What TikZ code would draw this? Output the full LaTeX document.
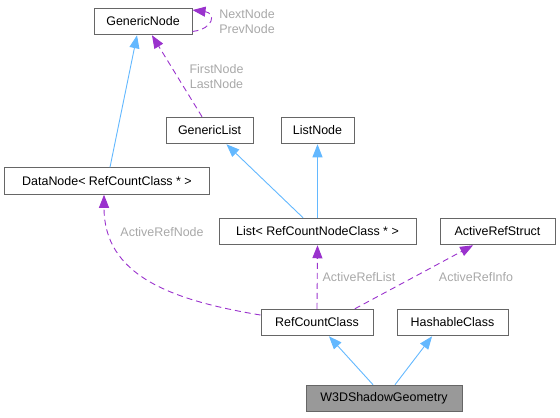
\documentclass[tikz,border=0pt]{standalone}
\usepackage{fontspec}
\setmainfont{Liberation Sans}
\usetikzlibrary{arrows.meta}
\definecolor{inhblue}{HTML}{63B8FF}
\definecolor{refpurple}{HTML}{9A32CD}
\definecolor{boxgray}{HTML}{666666}
\definecolor{lblgray}{HTML}{A8A8A8}
\definecolor{curfill}{HTML}{999999}
\tikzset{
  cls/.style={draw=boxgray, line width=1bp, fill=white, rectangle, inner sep=0pt,
    minimum height=26.5bp, font=\fontsize{12.5}{15}\selectfont, text=black},
  cur/.style={cls, fill=curfill},
  inh/.style={draw=inhblue, line width=0.9bp, -{Triangle[length=13bp,width=10bp]}},
  refl/.style={draw=refpurple, line width=0.9bp, dash pattern=on 6bp off 4bp,
    -{Triangle[length=13bp,width=10bp]}},
  lbl/.style={text=lblgray, font=\fontsize{12.5}{15}\selectfont, inner sep=0pt, align=center}
}
\begin{document}
\begin{tikzpicture}[x=1bp,y=-1bp]
\useasboundingbox (0,0) rectangle (560,417);
\node[cls, minimum width=98bp] (gn) at (143,21.5) {GenericNode};
\node[cls, minimum width=87bp] (gl) at (209.5,130.5) {GenericList};
\node[cls, minimum width=73bp] (ln) at (317.5,130.5) {ListNode};
\node[cls, minimum width=204bp] (dn) at (107,181) {DataNode< RefCountClass * >};
\node[cls, minimum width=197bp] (li) at (317.5,231.5) {List< RefCountNodeClass * >};
\node[cls, minimum width=115bp] (ars) at (497.5,231.5) {ActiveRefStruct};
\node[cls, minimum width=112bp] (rc) at (317,322.5) {RefCountClass};
\node[cls, minimum width=111bp] (hc) at (452.5,322.5) {HashableClass};
\node[cur, minimum width=156bp] (w3d) at (384,398.5) {W3DShadowGeometry};

% inheritance
\draw[inh] ([xshift=3]dn.north) -- ([xshift=-6]gn.south);
\draw[inh] ([xshift=-14.5]li.north) -- ([xshift=17]gl.south);
\draw[inh] (li.north) -- (ln.south);
\draw[inh] ([xshift=-11]w3d.north) -- ([xshift=12]rc.south);
\draw[inh] ([xshift=11]w3d.north) -- ([xshift=-20.5]hc.south);

% references
\draw[refl] ([xshift=-7.5]gl.north) -- ([xshift=9]gn.south);
\node[lbl] (lfl) at (216.5,77) {FirstNode\\LastNode};
\draw[refl] ([yshift=-10]gn.east) .. controls (214,29) and (216,13) .. ([yshift=11.5]gn.east);
\node[lbl] (lnp) at (247,21.5) {NextNode\\PrevNode};
\draw[refl] ([yshift=7.5]rc.west) .. controls (170,300) and (104,275) .. ([xshift=-3]dn.south);
\node[lbl] (larn) at (162,232) {ActiveRefNode};
\draw[refl] (rc.north) -- (li.south);
\node[lbl] (larl) at (359,277) {ActiveRefList};
\draw[refl] ([xshift=38]rc.north) -- ([xshift=-24.5]ars.south);
\node[lbl] (lari) at (476,277) {ActiveRefInfo};
\end{tikzpicture}
\end{document}
